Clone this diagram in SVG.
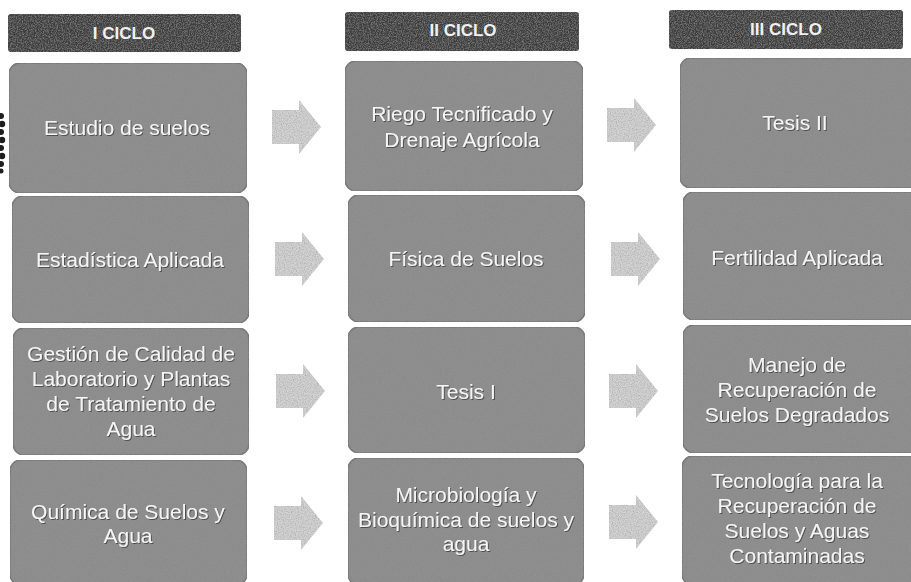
<svg xmlns="http://www.w3.org/2000/svg" width="911" height="582" viewBox="0 0 911 582">
<defs>
<filter id="grain" x="0" y="0" width="100%" height="100%">
<feTurbulence type="fractalNoise" baseFrequency="0.85" numOctaves="2" seed="4" result="n"/>
<feColorMatrix in="n" type="matrix" values="0 0 0 0 0.3  0 0 0 0 0.3  0 0 0 0 0.3  1.4 0 0 0 -0.55" result="dk"/>
<feComposite in="dk" in2="SourceAlpha" operator="in" result="d2"/>
<feMerge><feMergeNode in="SourceGraphic"/><feMergeNode in="d2"/></feMerge>
</filter>
<filter id="tshadow" x="-5%" y="-20%" width="110%" height="140%">
<feDropShadow dx="1" dy="1" stdDeviation="0.6" flood-color="#333" flood-opacity="0.7"/>
</filter>
<path id="arrow" d="M0,-17 H27 V-27 L49,0 L27,27 V17 H0 Z"/>
</defs>
<style>
.hdr{fill:#3e3e3e;filter:url(#grain)}
.box{fill:#8c8c8c;stroke:#747474;stroke-width:1.5;filter:url(#grain)}
.arr{fill:#d2d2d2;filter:url(#grain)}
.ht{font-family:"Liberation Sans",Arial,sans-serif;font-weight:bold;font-size:17px;fill:#f0f0f0;text-anchor:middle}
.bt{font-family:"Liberation Sans",Arial,sans-serif;font-size:21px;fill:#f5f5f5;text-anchor:middle;filter:url(#tshadow)}
</style>
<rect width="911" height="582" fill="#ffffff"/>
<g id="binding" fill="#1e1e1e">
<circle cx="1" cy="116" r="3"/><circle cx="2" cy="124" r="3.2"/><circle cx="1" cy="132" r="3"/><circle cx="2" cy="140" r="3.2"/><circle cx="1" cy="148" r="3"/><circle cx="2" cy="156" r="3.2"/><circle cx="1" cy="164" r="3"/><circle cx="1" cy="171" r="2.5"/>
</g>
<g id="headers">
<g id="h1"><rect class="hdr" x="8" y="14" width="233" height="38" rx="3"/><text class="ht" x="124" y="39">I CICLO</text></g>
<g id="h2"><rect class="hdr" x="345" y="12" width="234" height="39" rx="3"/><text class="ht" x="463" y="36">II CICLO</text></g>
<g id="h3"><rect class="hdr" x="669" y="10" width="234" height="39" rx="3"/><text class="ht" x="786" y="35">III CICLO</text></g>
</g>
<g id="connectors">
<use href="#arrow" class="arr" transform="translate(272,127)"/>
<use href="#arrow" class="arr" transform="translate(275,259)"/>
<use href="#arrow" class="arr" transform="translate(276,391)"/>
<use href="#arrow" class="arr" transform="translate(274,523)"/>
<use href="#arrow" class="arr" transform="translate(607,125)"/>
<use href="#arrow" class="arr" transform="translate(611,259)"/>
<use href="#arrow" class="arr" transform="translate(609,391)"/>
<use href="#arrow" class="arr" transform="translate(609,522)"/>
</g>
<g id="c1r1"><rect class="box" x="9" y="63" width="238" height="130" rx="11"/><text class="bt" x="127" y="135">Estudio de suelos</text></g>
<g id="c1r2"><rect class="box" x="12" y="196" width="237" height="127" rx="11"/><text class="bt" x="130" y="267">Estadística Aplicada</text></g>
<g id="c1r3"><rect class="box" x="13" y="328" width="236" height="127" rx="11"/><text class="bt" x="131"><tspan x="131" y="361">Gestión de Calidad de</tspan><tspan x="131" y="386">Laboratorio y Plantas</tspan><tspan x="131" y="411">de Tratamiento de</tspan><tspan x="131" y="436">Agua</tspan></text></g>
<g id="c1r4"><rect class="box" x="10" y="460" width="237" height="125" rx="11"/><text class="bt" x="128"><tspan x="128" y="519">Química de Suelos y</tspan><tspan x="128" y="543">Agua</tspan></text></g>
<g id="c2r1"><rect class="box" x="345" y="61" width="238" height="130" rx="11"/><text class="bt" x="462"><tspan x="462" y="121">Riego Tecnificado y</tspan><tspan x="462" y="147">Drenaje Agrícola</tspan></text></g>
<g id="c2r2"><rect class="box" x="348" y="195" width="237" height="127" rx="11"/><text class="bt" x="466" y="266">Física de Suelos</text></g>
<g id="c2r3"><rect class="box" x="348" y="327" width="237" height="126" rx="11"/><text class="bt" x="466" y="399">Tesis I</text></g>
<g id="c2r4"><rect class="box" x="348" y="458" width="236" height="127" rx="11"/><text class="bt" x="466"><tspan x="466" y="502">Microbiología y</tspan><tspan x="466" y="527">Bioquímica de suelos y</tspan><tspan x="466" y="551">agua</tspan></text></g>
<g id="c3r1"><rect class="box" x="680" y="58" width="240" height="130" rx="11"/><text class="bt" x="795" y="130">Tesis II</text></g>
<g id="c3r2"><rect class="box" x="683" y="192" width="240" height="128" rx="11"/><text class="bt" x="797" y="265">Fertilidad Aplicada</text></g>
<g id="c3r3"><rect class="box" x="683" y="325" width="240" height="128" rx="11"/><text class="bt" x="797"><tspan x="797" y="372">Manejo de</tspan><tspan x="797" y="397">Recuperación de</tspan><tspan x="797" y="422">Suelos Degradados</tspan></text></g>
<g id="c3r4"><rect class="box" x="682" y="456" width="240" height="129" rx="11"/><text class="bt" x="797"><tspan x="797" y="488">Tecnología para la</tspan><tspan x="797" y="513">Recuperación de</tspan><tspan x="797" y="538">Suelos y Aguas</tspan><tspan x="797" y="563">Contaminadas</tspan></text></g>
</svg>
